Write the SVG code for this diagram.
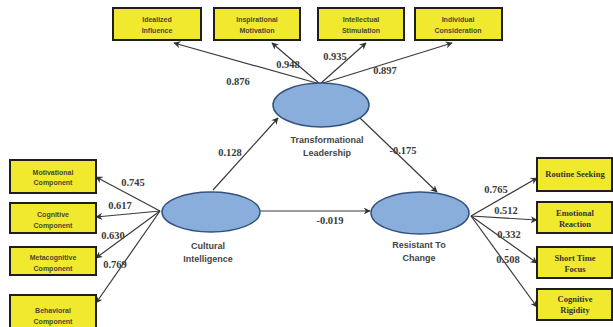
<svg xmlns="http://www.w3.org/2000/svg" width="613" height="327" viewBox="0 0 613 327">
<defs>
<marker id="ah" viewBox="0 0 10 10" refX="9" refY="5" markerWidth="7" markerHeight="7" orient="auto-start-reverse" markerUnits="userSpaceOnUse">
<path d="M0,0 L10,5 L0,10 L3,5 z" fill="#333"/>
</marker>
<style>
.box{fill:#f0e92e;stroke:#1e1e1e;stroke-width:2}
.ell{fill:#8aaedb;stroke:#34527f;stroke-width:1.5}
.st{font-family:"Liberation Sans",Arial,sans-serif;font-size:7px;fill:#4a4a2a;text-anchor:middle;font-weight:bold}
.sr{font-family:"Liberation Serif","Times New Roman",serif;font-size:8.5px;fill:#333;text-anchor:middle;font-weight:bold}
.el{font-family:"Liberation Sans",Arial,sans-serif;font-size:9px;fill:#444;text-anchor:middle;font-weight:bold}
.val{font-family:"Liberation Serif","Times New Roman",serif;font-size:10.5px;fill:#3a3a3a;text-anchor:middle;font-weight:bold}
.c{stroke:#3a3a3a;stroke-width:1.2;fill:none;marker-end:url(#ah)}
</style>
</defs>
<rect width="613" height="327" fill="#ffffff"/>
<g id="connectors">
<line class="c" x1="320" y1="84" x2="174" y2="43"/>
<line class="c" x1="320" y1="84" x2="272" y2="43"/>
<line class="c" x1="320" y1="84" x2="366" y2="43"/>
<line class="c" x1="320" y1="84" x2="452" y2="43"/>
<line class="c" x1="160" y1="211" x2="96" y2="177"/>
<line class="c" x1="160" y1="211" x2="96" y2="217"/>
<line class="c" x1="160" y1="211" x2="96" y2="258"/>
<line class="c" x1="160" y1="211" x2="96" y2="303"/>
<line class="c" x1="471" y1="216" x2="537" y2="178"/>
<line class="c" x1="471" y1="216" x2="537" y2="220"/>
<line class="c" x1="471" y1="216" x2="537" y2="263"/>
<line class="c" x1="471" y1="216" x2="537" y2="307"/>
<line class="c" x1="213" y1="190" x2="278" y2="118"/>
<line class="c" x1="360" y1="118" x2="437" y2="192"/>
<line class="c" x1="260" y1="211" x2="370" y2="211"/>
<text class="val" x="238" y="85">0.876</text>
<text class="val" x="288" y="68">0.948</text>
<text class="val" x="335" y="60">0.935</text>
<text class="val" x="385" y="74">0.897</text>
<text class="val" x="133" y="186">0.745</text>
<text class="val" x="120" y="209">0.617</text>
<text class="val" x="113" y="239">0.630</text>
<text class="val" x="115" y="268">0.769</text>
<text class="val" x="496" y="193">0.765</text>
<text class="val" x="506" y="214">0.512</text>
<text class="val" x="509" y="238">0.332</text>
<text class="val" x="507" y="252">-</text>
<text class="val" x="508" y="263">0.508</text>
<text class="val" x="230" y="156">0.128</text>
<text class="val" x="403" y="154">-0.175</text>
<text class="val" x="330" y="224">-0.019</text>
</g>
<g id="idealized"><rect class="box" x="113" y="8" width="88" height="32"/><text class="st" x="157" y="22">Idealized</text><text class="st" x="157" y="33">Influence</text></g>
<g id="inspirational"><rect class="box" x="214" y="8" width="86" height="32"/><text class="st" x="257" y="22">Inspirational</text><text class="st" x="257" y="33">Motivation</text></g>
<g id="intellectual"><rect class="box" x="318" y="8" width="86" height="32"/><text class="st" x="361" y="22">Intellectual</text><text class="st" x="361" y="33">Stimulation</text></g>
<g id="individual"><rect class="box" x="415" y="8" width="87" height="32"/><text class="st" x="458" y="22">Individual</text><text class="st" x="458" y="33">Consideration</text></g>
<g id="motivational"><rect class="box" x="10" y="160" width="86" height="33"/><text class="st" x="53" y="175">Motivational</text><text class="st" x="53" y="185">Component</text></g>
<g id="cognitive"><rect class="box" x="10" y="203" width="86" height="30"/><text class="st" x="53" y="217">Cognitive</text><text class="st" x="53" y="228">Component</text></g>
<g id="metacognitive"><rect class="box" x="10" y="247" width="86" height="28"/><text class="st" x="53" y="260">Metacognitive</text><text class="st" x="53" y="271">Component</text></g>
<g id="behavioral"><rect class="box" x="10" y="295" width="86" height="36"/><text class="st" x="53" y="313">Behavioral</text><text class="st" x="53" y="324">Component</text></g>
<g id="routine"><rect class="box" x="537" y="158" width="75" height="33"/><text class="sr" x="575" y="177">Routine Seeking</text></g>
<g id="emotional"><rect class="box" x="537" y="202" width="75" height="31"/><text class="sr" x="575" y="216">Emotional</text><text class="sr" x="575" y="227">Reaction</text></g>
<g id="shorttime"><rect class="box" x="537" y="247" width="75" height="31"/><text class="sr" x="575" y="261">Short Time</text><text class="sr" x="575" y="272">Focus</text></g>
<g id="rigidity"><rect class="box" x="537" y="289" width="75" height="31"/><text class="sr" x="575" y="302">Cognitive</text><text class="sr" x="575" y="313">Rigidity</text></g>
<g id="tl"><ellipse class="ell" cx="321" cy="105" rx="48" ry="22"/><text class="el" x="327" y="143">Transformational</text><text class="el" x="327" y="156">Leadership</text></g>
<g id="ci"><ellipse class="ell" cx="211" cy="212" rx="49" ry="20"/><text class="el" x="208" y="249">Cultural</text><text class="el" x="208" y="262">Intelligence</text></g>
<g id="rc"><ellipse class="ell" cx="420" cy="213" rx="49" ry="21"/><text class="el" x="419" y="248">Resistant To</text><text class="el" x="419" y="261">Change</text></g>
</svg>
